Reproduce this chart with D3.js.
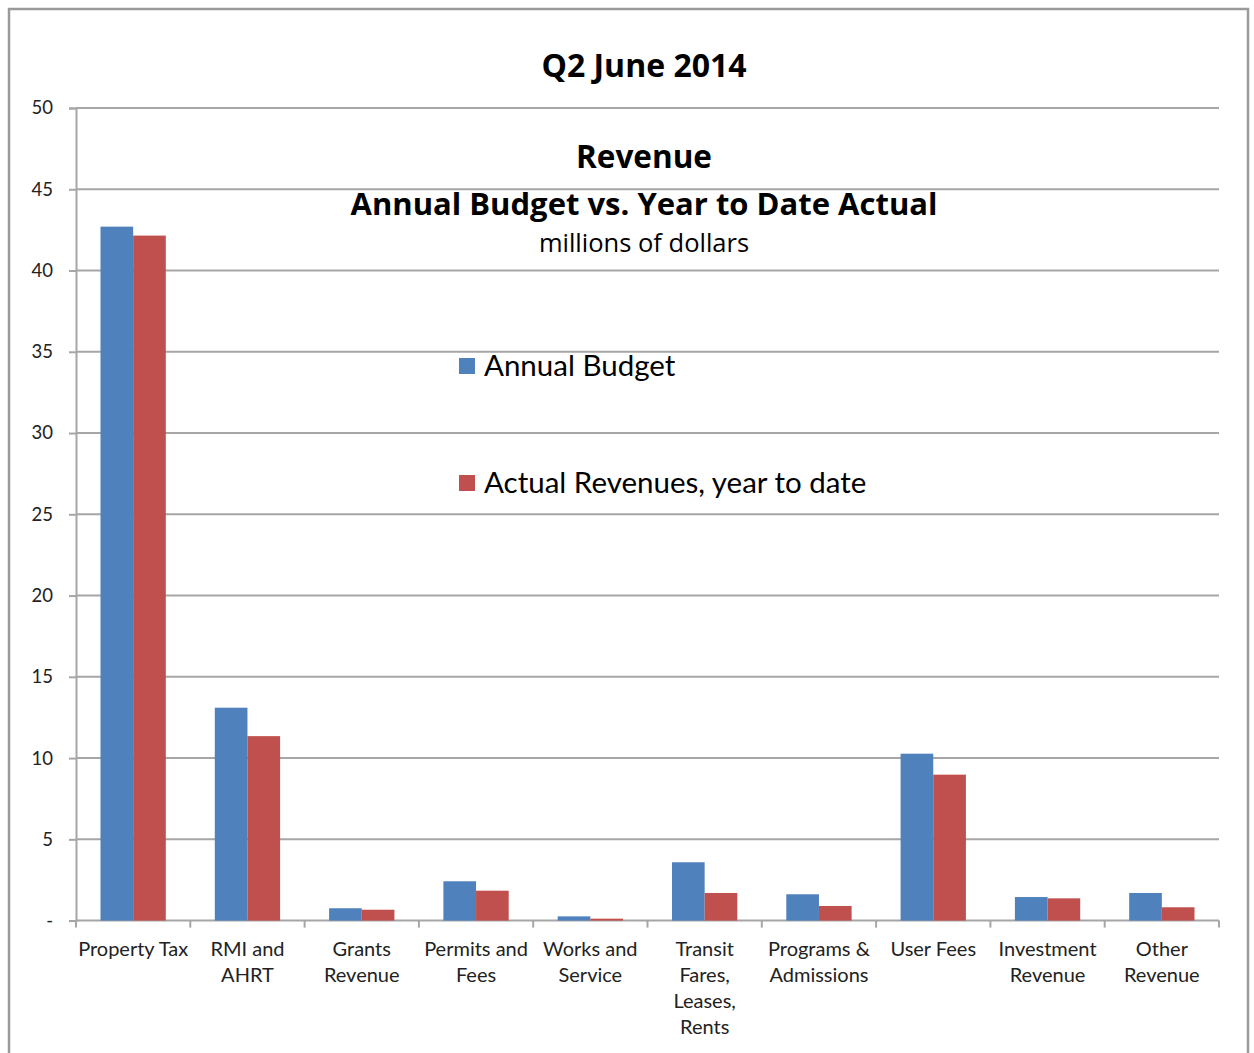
<!DOCTYPE html>
<html>
<head>
<meta charset="utf-8">
<script src="https://cdn.jsdelivr.net/npm/d3@7"></script>
<style>
  html, body { margin: 0; padding: 0; background: #fff; }
  svg { display: block; font-family: Lato, "Open Sans", sans-serif; }
</style>
</head>
<body>
<svg id="chart" width="1254" height="1053"></svg>
<script>
// Revenue categories (multi-line labels split on "\n")
const categories = [
  "Property Tax", "RMI and\nAHRT", "Grants\nRevenue", "Permits and\nFees",
  "Works and\nService", "Transit\nFares,\nLeases,\nRents", "Programs &\nAdmissions",
  "User Fees", "Investment\nRevenue", "Other\nRevenue"
];
// millions of dollars
const annualBudget = [42.7, 13.1, 0.76, 2.42, 0.26, 3.59, 1.62, 10.27, 1.45, 1.70];
const actualRevenue = [42.15, 11.35, 0.67, 1.84, 0.12, 1.70, 0.90, 8.98, 1.37, 0.82];
const seriesNames = ["Annual Budget", "Actual Revenues, year to date"];
const seriesColors = ["#4F81BD", "#C0504D"];
const yTicks = [0, 5, 10, 15, 20, 25, 30, 35, 40, 45, 50];

const svg = d3.select("#chart");
const margin = { left: 76, right: 1219, top: 108, bottom: 920.6 };

// outer chart frame
svg.append("rect")
  .attr("x", 9).attr("y", 9).attr("width", 1239).attr("height", 1070)
  .attr("fill", "#fff").attr("stroke", "#9a9a9a").attr("stroke-width", 2.5);

const x = d3.scaleBand().domain(d3.range(categories.length))
  .range([margin.left, margin.right]).paddingInner(0).paddingOuter(0);
const y = d3.scaleLinear().domain([0, 50]).range([margin.bottom, margin.top]);

// horizontal gridlines
svg.append("g").selectAll("line").data(yTicks.slice(1)).join("line")
  .attr("x1", margin.left).attr("x2", margin.right)
  .attr("y1", d => y(d)).attr("y2", d => y(d))
  .attr("stroke", "#a6a6a6").attr("stroke-width", 2);

// y axis ("-" for zero, accounting style)
const yAxis = d3.axisLeft(y).tickValues(yTicks).tickSize(7).tickPadding(16)
  .tickFormat(d => d === 0 ? "-" : d);
const gy = svg.append("g").attr("transform", `translate(${margin.left},0)`).call(yAxis);
gy.select(".domain").attr("stroke", "#a6a6a6").attr("stroke-width", 2);
gy.selectAll(".tick line").attr("stroke", "#a6a6a6").attr("stroke-width", 2);
gy.selectAll(".tick text").attr("font-size", 18.5).attr("fill", "#222")
  .attr("font-family", "Lato, sans-serif");

// x axis baseline and category ticks
const bounds = d3.range(categories.length + 1).map(i => margin.left + i * x.bandwidth());
svg.append("line").attr("x1", margin.left).attr("x2", margin.right)
  .attr("y1", y(0)).attr("y2", y(0)).attr("stroke", "#a6a6a6").attr("stroke-width", 2);
svg.append("g").selectAll("line").data(bounds).join("line")
  .attr("x1", d => d).attr("x2", d => d)
  .attr("y1", y(0)).attr("y2", y(0) + 7)
  .attr("stroke", "#a6a6a6").attr("stroke-width", 2);

// bars: gap width 150% of a bar
const barW = x.bandwidth() / 3.5;
const series = [annualBudget, actualRevenue];
series.forEach((vals, s) => {
  svg.append("g").selectAll("rect").data(vals).join("rect")
    .attr("x", (d, i) => x(i) + barW * 0.75 + s * barW)
    .attr("width", barW)
    .attr("y", d => y(d))
    .attr("height", d => y(0) - y(d))
    .attr("fill", seriesColors[s]);
});

// category labels
const lbl = svg.append("g").attr("font-size", 20).attr("fill", "#222").attr("text-anchor", "middle");
categories.forEach((c, i) => {
  const t = lbl.append("text").attr("x", x(i) + x.bandwidth() / 2).attr("y", 956);
  c.split("\n").forEach((line, j) => {
    t.append("tspan").attr("x", x(i) + x.bandwidth() / 2).attr("y", 956 + j * 26).text(line);
  });
});

// titles
const titleFont = "'Open Sans', sans-serif";
svg.append("text").attr("x", 644).attr("y", 77).attr("text-anchor", "middle")
  .attr("font-family", titleFont).attr("font-weight", "bold").attr("font-size", 32)
  .attr("fill", "#000").text("Q2 June 2014");
svg.append("text").attr("x", 644).attr("y", 168).attr("text-anchor", "middle")
  .attr("font-family", titleFont).attr("font-weight", "bold").attr("font-size", 31.5)
  .attr("fill", "#000").text("Revenue");
svg.append("text").attr("x", 644).attr("y", 215).attr("text-anchor", "middle")
  .attr("font-family", titleFont).attr("font-weight", "bold").attr("font-size", 31)
  .attr("fill", "#000").text("Annual Budget vs. Year to Date Actual");
svg.append("text").attr("x", 644).attr("y", 252).attr("text-anchor", "middle")
  .attr("font-family", titleFont).attr("font-size", 25.5).attr("fill", "#000")
  .text("millions of dollars");

// legend
const legendY = [366, 483];
seriesNames.forEach((n, i) => {
  svg.append("rect").attr("x", 459).attr("y", legendY[i] - 8).attr("width", 16).attr("height", 16)
    .attr("fill", seriesColors[i]);
  svg.append("text").attr("x", 484).attr("y", legendY[i] + 10).attr("font-size", 29.5)
    .attr("fill", "#000").text(n);
});
</script>
</body>
</html>
